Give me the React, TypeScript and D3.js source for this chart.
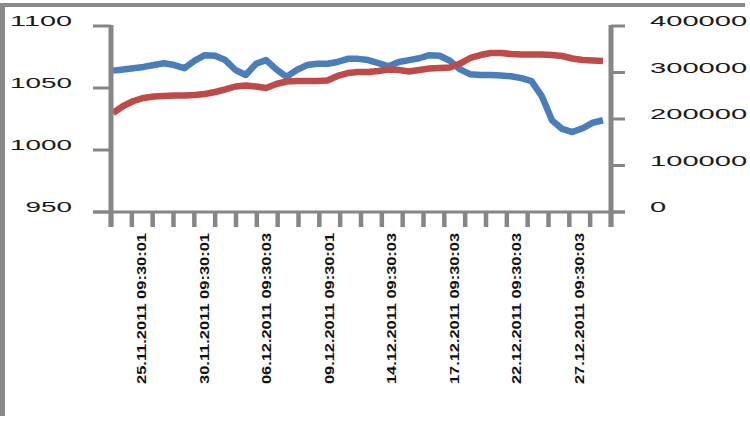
import React, { useEffect, useRef } from 'react';
import * as d3 from 'd3';

// left axis series (blue) and right axis series (red)
const blueValues = [
  1064, 1065, 1066, 1067, 1068.5, 1070, 1068.5, 1066, 1072, 1076.5, 1076, 1072.5, 1064.5,
  1060.5, 1069.5, 1072.5, 1065, 1059, 1064.5, 1068.5, 1069.5, 1069.5, 1071, 1073.5, 1073.5,
  1072.5, 1070, 1067.5, 1071, 1072.5, 1074, 1076.5, 1076, 1072, 1065, 1061, 1060.5, 1060.5,
  1060, 1059.5, 1058, 1055.5, 1043.5, 1024, 1017, 1014.5, 1017.5, 1022, 1024,
];
const redValues = [
  212900, 228000, 238700, 245200, 248400, 249500, 250500, 250500, 251600, 253800, 258100,
  263500, 269900, 272000, 269900, 266700, 275300, 280600, 281700, 281700, 281700, 282800,
  292500, 298900, 301100, 301100, 303200, 306500, 305400, 302100, 305400, 308600, 309700,
  310800, 319300, 331200, 337600, 341900, 341900, 339800, 338700, 338700, 338700, 337600,
  335500, 330100, 326900, 325800, 324700,
];

const leftTicks = [950, 1000, 1050, 1100];
const rightTicks = [0, 100000, 200000, 300000, 400000];
const categoryCount = 24;
const xLabels = [
  '25.11.2011 09:30:01',
  '30.11.2011 09:30:01',
  '06.12.2011 09:30:03',
  '09.12.2011 09:30:01',
  '14.12.2011 09:30:03',
  '17.12.2011 09:30:03',
  '22.12.2011 09:30:03',
  '27.12.2011 09:30:03',
];
const labelEvery = 3;
const labelStart = 1;

const W = 750;
const H = 422;
const margin = { top: 26, left: 111, right: 139, bottom: 210 };
const FONT = '"Liberation Sans", Arial, sans-serif';
const AXIS = '#868686';

const App: React.FC = () => {
  const svgRef = useRef<SVGSVGElement>(null);

  useEffect(() => {
    if (!svgRef.current) return;
    const svg = d3.select(svgRef.current);
    svg.selectAll('*').remove();

    const innerW = W - margin.left - margin.right;
    const innerH = H - margin.top - margin.bottom;

    const xBand = d3
      .scaleBand<number>()
      .domain(d3.range(categoryCount))
      .range([0, innerW]);
    const xLine = d3
      .scaleLinear()
      .domain([0, blueValues.length - 1])
      .range([2, innerW - 8]);
    const yLeft = d3.scaleLinear().domain([950, 1100]).range([innerH, 0]);
    const yRight = d3.scaleLinear().domain([0, 400000]).range([innerH, 0]);

    // outer frame (top and left edges only)
    svg.append('line').attr('x1', 2).attr('x2', 745).attr('y1', 5).attr('y2', 5)
      .attr('stroke', '#8a8a8a').attr('stroke-width', 4);
    svg.append('line').attr('x1', 2.5).attr('x2', 2.5).attr('y1', 3).attr('y2', 416)
      .attr('stroke', '#8a8a8a').attr('stroke-width', 5);

    const g = svg.append('g').attr('transform', `translate(${margin.left},${margin.top})`);

    // series lines
    const series = [
      { values: blueValues, y: yLeft, color: '#4a7ebb' },
      { values: redValues, y: yRight, color: '#be4b48' },
    ];
    series.forEach(s => {
      const line = d3
        .line<number>()
        .x((_, i) => xLine(i))
        .y(d => s.y(d));
      g.append('path')
        .datum(s.values)
        .attr('d', line)
        .attr('fill', 'none')
        .attr('stroke', s.color)
        .attr('stroke-width', 6.5)
        .attr('stroke-linejoin', 'round');
    });

    // left axis
    g.append('line').attr('x1', 0).attr('x2', 0).attr('y1', -1).attr('y2', innerH + 15)
      .attr('stroke', AXIS).attr('stroke-width', 5);
    leftTicks.forEach(t => {
      const y = yLeft(t);
      g.append('line').attr('x1', -18).attr('x2', 0).attr('y1', y).attr('y2', y)
        .attr('stroke', AXIS).attr('stroke-width', 3);
      const label = String(t);
      const w = label.length * 15.5;
      g.append('text')
        .attr('x', -39 - w)
        .attr('y', y - 5)
        .attr('dy', '0.35em')
        .attr('textLength', w)
        .attr('lengthAdjust', 'spacingAndGlyphs')
        .style('font-family', FONT)
        .style('font-size', '14px')
        .style('fill', '#1a1a1a')
        .text(label);
    });

    // right axis
    g.append('line').attr('x1', innerW).attr('x2', innerW).attr('y1', -1).attr('y2', innerH + 15)
      .attr('stroke', AXIS).attr('stroke-width', 5);
    rightTicks.forEach(t => {
      const y = yRight(t);
      g.append('line').attr('x1', innerW).attr('x2', innerW + 14).attr('y1', y).attr('y2', y)
        .attr('stroke', AXIS).attr('stroke-width', 3);
      const label = String(t);
      const w = label.length * 16.2;
      g.append('text')
        .attr('x', innerW + 39)
        .attr('y', y - 4.5)
        .attr('dy', '0.35em')
        .attr('textLength', w)
        .attr('lengthAdjust', 'spacingAndGlyphs')
        .style('font-family', FONT)
        .style('font-size', '14px')
        .style('fill', '#1a1a1a')
        .text(label);
    });

    // category axis
    g.append('line').attr('x1', -18).attr('x2', innerW + 14).attr('y1', innerH).attr('y2', innerH)
      .attr('stroke', AXIS).attr('stroke-width', 3);
    d3.range(categoryCount + 1).forEach(i => {
      const x = i < categoryCount ? (xBand(i) as number) : innerW;
      g.append('line').attr('x1', x).attr('x2', x).attr('y1', innerH).attr('y2', innerH + 15)
        .attr('stroke', AXIS).attr('stroke-width', 4.5);
    });

    xLabels.forEach((label, j) => {
      const cat = labelStart + j * labelEvery;
      const x = (xBand(cat) as number) + xBand.bandwidth() / 2;
      g.append('text')
        .attr('transform', `translate(${x},${innerH + 172}) rotate(-90)`)
        .attr('dy', '0.35em')
        .attr('textLength', 151)
        .attr('lengthAdjust', 'spacingAndGlyphs')
        .style('font-family', FONT)
        .style('font-size', '12px')
        .style('font-weight', 'bold')
        .style('fill', '#111')
        .text(label);
    });
  }, []);

  return (
    <svg
      ref={svgRef}
      width={W}
      height={H}
      style={{ position: 'absolute', left: 0, top: 0, background: '#fff' }}
    />
  );
};

export default App;
